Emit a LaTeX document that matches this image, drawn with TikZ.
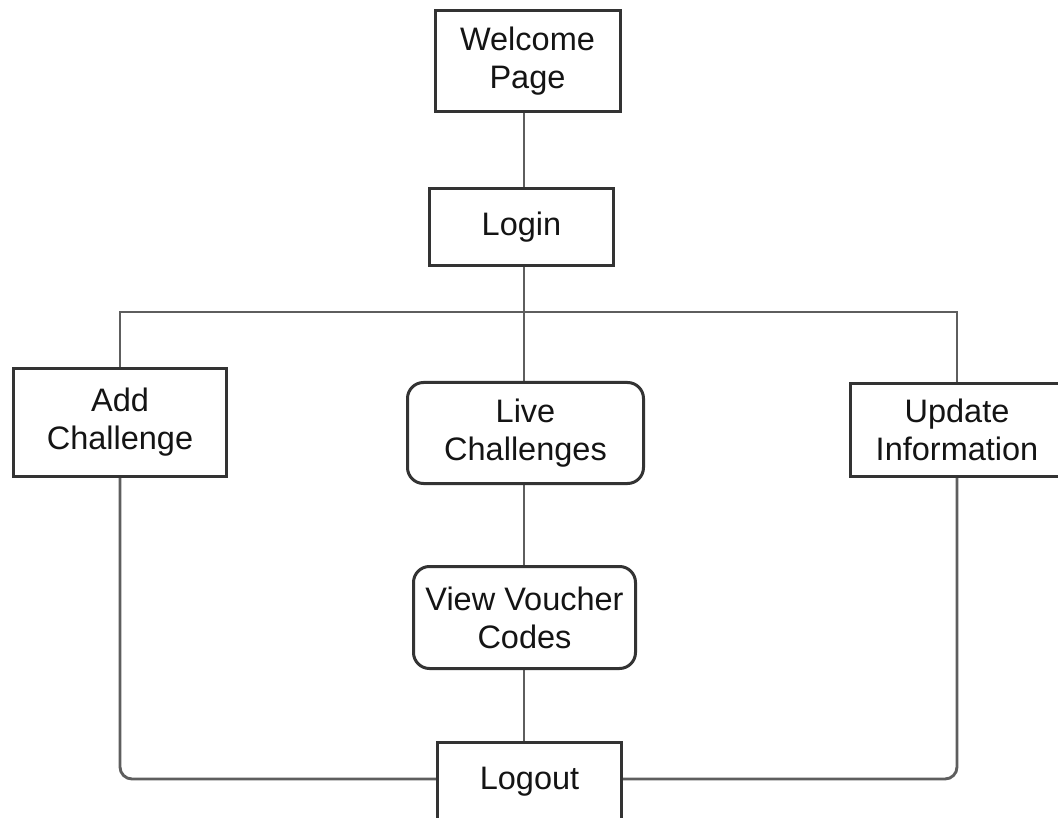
\documentclass[tikz,border=0pt]{standalone}
\usepackage{fontspec}
\setmainfont{Liberation Sans}
\usetikzlibrary{backgrounds}
\begin{document}
\begin{tikzpicture}[x=1pt,y=-1pt,
  box/.style={draw=boxline, line width=3pt, fill=white, text=black!92,
    align=center, inner sep=0pt, font=\fontsize{32.5}{38}\selectfont},
  roundbox/.style={box, rounded corners=16pt},
  link/.style={draw=linkgray, line width=2.9pt},
]
\definecolor{boxline}{HTML}{333333}
\definecolor{linkgray}{HTML}{5E5E5E}
\useasboundingbox (0,0) rectangle (1058,818);
\clip (0,0) rectangle (1058,818);

% page flow nodes
\node[box, minimum width=185pt, minimum height=101pt] (welcome) at (527.5,61) {Welcome\\Page};
\node[box, minimum width=184pt, minimum height=77pt] (login) at (521.5,227) {Login};
\node[box, minimum width=213pt, minimum height=108pt] (add) at (120,422.5) {Add\\Challenge};
\node[roundbox, minimum width=236pt, minimum height=101pt] (live) at (525.5,433) {Live\\Challenges};
\node[box, minimum width=213pt, minimum height=93pt] (update) at (957,430) {Update\\Information};
\node[roundbox, minimum width=222pt, minimum height=102pt] (voucher) at (524.5,617.5) {View Voucher\\Codes};
\node[box, minimum width=184pt, minimum height=79pt] (logout) at (529.5,782) {Logout};

% guide coordinates for the connectors
\coordinate (spine) at (524,0);
\coordinate (bus) at (524,312);
\coordinate (lowrail) at (0,779);

% connectors, kept behind the boxes
\begin{scope}[on background layer]
\draw[link] (welcome.south -| spine) -- (login.north -| spine);
\draw[link] (login.south -| spine) -- (live.north -| spine);
\draw[link] (add.north) |- (bus) -| (update.north);
\draw[link] (live.south -| spine) -- (voucher.north -| spine);
\draw[link] (voucher.south -| spine) -- (logout.north -| spine);
\draw[link, rounded corners=12pt] (add.south) |- (logout.west |- lowrail);
\draw[link, rounded corners=12pt] (update.south) |- (logout.east |- lowrail);
\end{scope}
\end{tikzpicture}
\end{document}
